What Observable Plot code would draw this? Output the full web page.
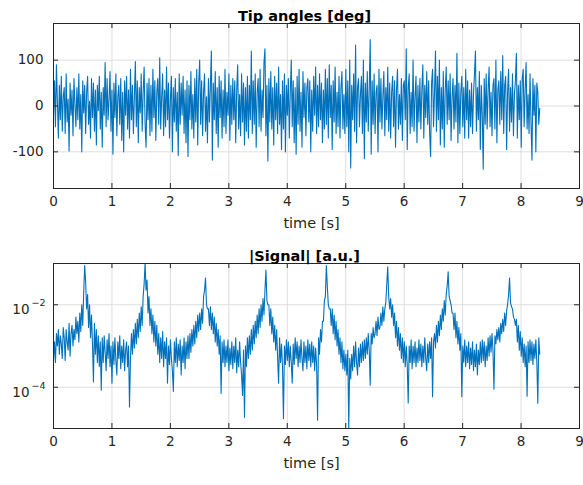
<!DOCTYPE html>
<html>
<head>
<meta charset="utf-8">
<script src="https://cdn.jsdelivr.net/npm/d3@7"></script>
<script src="https://cdn.jsdelivr.net/npm/@observablehq/plot@0.6"></script>
<style>
  html, body { margin: 0; padding: 0; background: #fff; }
  #chart { width: 583px; height: 485px; position: relative; }
  #chart > div { position: absolute; left: 0; }
</style>
</head>
<body>
<div id="chart"><div id="top" style="top:0"></div><div id="bottom" style="top:240px"></div></div>
<script>
// ---- data ----
const tStart = 0;      // first sample time [s]
const tEnd = 8.32;     // last sample time [s]

// Tip angles [deg], evenly sampled between tStart and tEnd
const tipAngles = [
  -20, 55, -45, 90, 10, -70, 45, -30, 65, -55, 20, 40, -60, 70, -35, 15, -98, 50, -20, 35, -65, 60, 5, -45, 40,
  -30, 70, -50, 25, -100, 55, -15, 45, -60, 30, 65, -40, 10, -70, 60, -25, 50, -55, 35, -85, 45, -10, 65, -50, 30,
  -90, 40, -20, 95, -45, 60, -30, 15, 75, -55, 35, -105, 50, -25, 70, -65, 20, 45, -40, 60, -75, 30, -100, 55, -20,
  65, -50, 35, -70, 80, -30, 45, -60, 20, 97, -45, 55, -80, 40, -15, 70, -55, 30, 85, -40, -90, 50, -30, 60, -65,
  45, -55, 80, -25, 55, -75, 30, 60, -40, 105, -50, 20, 70, -65, 35, -45, 85, -30, 50, -70, 15, 65, -100, 40, -35,
  60, -55, 30, -108, 70, -40, 50, -20, 65, -60, 35, -80, 55, -110, 45, -30, 75, -50, 25, -70, 60, -35, 80, -85, 50,
  100, -40, 55, -65, 30, 70, -55, 20, -80, 60, -35, 45, 120, -118, 50, -30, 75, -60, 40, -90, 65, -25, 55, -70, 35,
  -45, 80, -60, 30, -20, 70, -75, 45, -40, 60, -30, 55, -80, 35, 90, -50, 25, -65, 70, -35, 50, -85, 40, -55, 65,
  -70, 45, -30, 120, -60, 55, -40, 70, -90, 30, 60, -45, 80, -55, 35, -25, 95, 125, -65, 45, -120, 60, -35, 75, -50,
  40, -85, 65, -30, 50, -60, 85, -40, 25, -95, 55, -50, 70, -100, 45, -20, 60, -70, 30, 100, -45, 55, -80, 40, -105,
  65, -40, 80, -55, 30, -90, 75, -25, 50, -65, 40, 60, -35, 55, -100, 35, -55, 65, -20, 85, -60, 45, -45, 70, -30,
  50, -80, 35, -50, 80, -40, 60, -70, 90, -25, 45, -95, 55, -35, 85, -60, 30, -45, 65, -70, 40, 75, -50, 25, -60,
  80, -45, 55, -100, 100, -135, 45, -30, 70, -55, 133, -80, 40, 60, -45, 25, 65, -60, 100, -115, 50, -35, 75, -55, 35,
  145, -105, 55, -40, 70, -60, 30, 45, -100, 80, -35, 60, -50, 20, 75, -65, 40, -30, 85, -55, 50, -70, 30, 65, -45,
  55, -90, 35, 80, -50, 25, -40, 60, -75, 45, 55, -30, 125, -95, 40, 70, -60, 30, -45, 100, -55, 20, 65, -80, 45,
  -35, 60, -50, 35, 90, -70, 45, -25, 75, -40, 55, -60, -110, 50, 80, -45, 30, 120, -55, 65, -30, 100, -85, 40, -50,
  75, -90, 35, 85, -40, 55, -30, 70, -75, 20, 60, -50, 45, -35, 115, -80, 50, -60, 30, 65, -45, 40, -70, 80, -30,
  55, -70, 35, -45, 50, -60, 25, 70, 120, -55, 40, -30, 75, -95, 45, -20, -138, 60, -40, 70, -50, 35, 85, -45, 30,
  -65, 45, 60, -50, 100, -80, 35, 55, -40, 75, -30, 110, -60, 45, 65, -95, 30, 80, -55, 40, -35, 70, -65, 25, 55,
  115, -70, 45, -30, 55, -90, 60, 80, -45, 35, 95, -50, 25, -60, 70, -35, -118, 60, -20, 45, -100, 50, 30, -40, -5
];

// |Signal| [a.u.] as log10 exponents, same sampling
const signalLog10 = [
  -3.35, -2.9, -3.4, -2.7, -3.0, -2.6, -3.2, -2.75, -2.95, -3.3, -2.55, -2.8, -3.35, -2.6, -2.9, -3.1, -2.45, -3.25, -2.7, -2.5, -3.0, -2.6, -2.85, -2.3, -2.7,
  -2.4, -2.9, -2.2, -2.65, -2.0, -2.5, -1.7, -1.05, -1.45, -2.1, -1.75, -2.55, -2.0, -2.8, -2.25, -2.95, -3.87, -2.45, -3.2, -2.6, -3.4, -2.75, -3.5, -2.9, -4.07,
  -2.8, -3.4, -2.75, -3.15, -3.6, -2.85, -3.3, -2.7, -3.5, -3.0, -3.9, -2.9, -3.45, -2.8, -3.35, -3.7, -2.9, -3.3, -2.75, -3.55, -3.0, -3.4, -2.85, -3.6, -3.1,
  -2.9, -3.5, -3.0, -4.48, -3.3, -2.7, -3.2, -2.6, -3.05, -2.45, -2.95, -2.35, -2.8, -2.2, -2.65, -2.05, -2.5, -1.8, -1.5, -0.98, -1.65, -1.4, -2.2, -1.8, -2.5,
  -2.1, -2.7, -2.25, -2.9, -2.4, -3.0, -2.5, -3.2, -2.7, -3.4, -2.8, -3.3, -2.65, -3.5, -2.9, -3.3, -2.8, -3.9, -3.0, -3.45, -2.85, -3.3, -3.6, -4.1, -2.9,
  -3.4, -2.8, -3.5, -2.95, -3.35, -2.85, -3.7, -3.0, -3.4, -2.8, -3.55, -2.9, -3.3, -2.75, -3.3, -2.7, -3.15, -2.6, -3.0, -2.5, -2.95, -2.4, -2.8, -2.25, -2.65,
  -2.2, -2.6, -2.1, -2.45, -1.8, -1.65, -1.35, -2.0, -2.1, -2.1, -2.5, -2.05, -2.6, -2.2, -2.7, -2.3, -2.9, -2.45, -3.0, -2.6, -3.2, -2.75, -4.15, -2.9, -3.4,
  -2.85, -3.5, -3.0, -3.4, -2.85, -3.6, -3.05, -3.45, -2.9, -3.55, -3.0, -3.4, -2.8, -3.65, -3.1, -3.5, -2.9, -3.4, -3.7, -4.2, -3.1, -4.73, -3.0, -3.5, -2.8,
  -3.3, -2.75, -3.2, -2.6, -3.1, -2.5, -2.95, -2.4, -2.8, -2.25, -2.7, -2.1, -2.55, -2.0, -2.4, -1.85, -2.25, -1.65, -1.16, -1.9, -2.0, -2.0, -2.5, -2.1, -2.7,
  -2.3, -2.9, -2.5, -3.1, -2.6, -3.3, -3.9, -2.8, -3.4, -2.95, -3.5, -4.76, -3.0, -3.45, -2.85, -3.35, -2.9, -3.5, -3.0, -3.4, -3.9, -2.95, -3.45, -2.8, -3.3,
  -2.9, -3.5, -3.0, -3.4, -2.85, -3.3, -3.6, -2.9, -3.4, -3.0, -3.55, -2.85, -3.35, -2.95, -3.5, -2.9, -3.4, -3.0, -3.6, -3.05, -3.45, -4.8, -2.8, -3.2, -2.6,
  -2.9, -2.4, -2.4, -1.9, -1.8, -1.05, -1.55, -2.0, -2.1, -2.1, -2.5, -2.1, -2.7, -2.25, -2.85, -2.4, -3.0, -2.6, -3.2, -2.8, -3.4, -2.9, -3.55, -3.1, -3.6,
  -3.2, -3.7, -3.1, -5.0, -3.3, -3.8, -3.2, -3.6, -3.0, -3.5, -2.9, -3.4, -3.7, -3.05, -3.5, -2.95, -3.4, -2.9, -3.35, -2.85, -3.3, -2.8, -3.2, -2.7, -3.1,
  -3.95, -2.7, -2.95, -2.55, -2.8, -2.7, -2.4, -2.75, -2.3, -2.6, -2.55, -2.2, -2.5, -2.05, -2.4, -2.1, -1.95, -1.5, -1.08, -1.8, -2.1, -1.85, -2.3, -2.0, -2.5,
  -2.2, -2.8, -2.4, -3.0, -2.55, -3.1, -2.7, -3.3, -2.8, -3.4, -2.9, -3.5, -3.0, -3.45, -4.38, -3.0, -3.4, -2.85, -3.55, -3.0, -3.4, -2.9, -3.5, -3.05, -3.4,
  -2.85, -3.35, -2.95, -3.5, -3.0, -3.4, -2.8, -3.3, -3.6, -2.95, -3.4, -2.9, -3.3, -2.8, -4.23, -2.9, -2.7, -3.05, -2.5, -2.9, -2.4, -2.75, -2.25, -2.6, -2.1,
  -2.4, -1.9, -2.25, -1.75, -1.55, -1.2, -1.8, -1.9, -2.0, -2.2, -2.2, -2.6, -2.2, -2.8, -2.4, -2.95, -2.55, -3.1, -2.7, -4.23, -3.0, -3.4, -2.85, -3.5, -3.0,
  -3.4, -2.9, -3.55, -3.05, -3.45, -2.9, -3.6, -3.1, -3.5, -2.95, -3.7, -3.1, -3.45, -2.9, -3.4, -2.85, -3.35, -2.9, -3.5, -3.0, -3.35, -2.8, -3.25, -2.75, -3.15,
  -2.7, -3.1, -4.05, -2.75, -2.95, -2.6, -2.85, -2.55, -2.9, -2.45, -2.7, -2.35, -2.65, -2.2, -2.5, -2.15, -2.0, -1.75, -1.35, -1.95, -2.05, -2.1, -2.3, -2.35, -2.5,
  -2.35, -2.9, -2.5, -3.1, -2.65, -3.25, -2.8, -3.4, -2.95, -3.5, -3.0, -4.22, -2.9, -3.4, -2.85, -3.35, -2.9, -3.45, -2.95, -3.3, -2.85, -3.4, -4.39, -2.8, -3.2
];

// axes
const xTicks = [0, 1, 2, 3, 4, 5, 6, 7, 8, 9];
const xDomain = [0, 9];
const topYTicks = [-100, 0, 100];
const topYDomain = [-180, 180];
const bottomYExponents = [-4, -2];
const bottomYDomainExp = [-5, -1];

const titles = ["Tip angles [deg]", "|Signal| [a.u.]"];
const xLabel = "time [s]";

// ---- build tables ----
const timeAt = (i, n) => tStart + (tEnd - tStart) * i / (n - 1);
const topData = tipAngles.map((v, i) => ({t: timeAt(i, tipAngles.length), v}));
const bottomData = signalLog10.map((e, i) => ({t: timeAt(i, signalLog10.length), v: Math.pow(10, e)}));

const BLUE = "#0072BD";
const AX = "#262626";
const GRID = "#dedede";
const FONT = "DejaVu Sans, sans-serif";
const W = 583, ML = 53, MR = 4, MT = 23;

function panel({height, marginBottom, yScale, yTickMarks, yLabels, data, title}) {
  const frameH = height - MT - marginBottom;
  const frameW = W - ML - MR;
  return Plot.plot({
    width: W, height,
    marginLeft: ML, marginRight: MR, marginTop: MT, marginBottom,
    style: {fontFamily: FONT, fontSize: "13.5px", color: AX, background: "#fff", overflow: "visible"},
    x: {domain: xDomain, axis: null},
    y: {...yScale, axis: null},
    marks: [
      Plot.ruleX(xTicks, {x: d => d, stroke: GRID, strokeWidth: 1}),
      Plot.ruleY(yTickMarks, {y: d => d, stroke: GRID, strokeWidth: 1}),
      Plot.line(data, {x: "t", y: "v", stroke: BLUE, strokeWidth: 1.1, clip: true}),
      Plot.frame({stroke: AX, strokeWidth: 1}),
      Plot.tickX(xTicks, {x: d => d, stroke: AX, insetTop: frameH - 5}),
      Plot.tickX(xTicks, {x: d => d, stroke: AX, insetBottom: frameH - 5}),
      Plot.tickY(yTickMarks, {y: d => d, stroke: AX, insetRight: frameW - 5}),
      Plot.tickY(yTickMarks, {y: d => d, stroke: AX, insetLeft: frameW - 5}),
      Plot.text(xTicks, {x: d => d, frameAnchor: "bottom", dy: 17.5, text: d => String(d), fill: AX, fontSize: 13.5}),
      ...yLabels,
      Plot.text([xLabel], {frameAnchor: "bottom", dy: 39, dx: -5, text: d => d, fill: AX, fontSize: 14.5}),
      Plot.text([title], {frameAnchor: "top", dy: -12.5, dx: -12, text: d => d, fill: "#000", fontSize: 14.5, fontWeight: "bold"})
    ]
  });
}

const topPlot = panel({
  height: 240, marginBottom: 52,
  yScale: {domain: topYDomain},
  yTickMarks: topYTicks,
  yLabels: [Plot.text(topYTicks, {y: d => d, frameAnchor: "left", textAnchor: "end", dx: -10, text: d => String(d), fill: AX, fontSize: 13.5})],
  data: topData, title: titles[0]
});

const bottomTicks = bottomYExponents.map(e => Math.pow(10, e));
const bottomPlot = panel({
  height: 245, marginBottom: 57,
  yScale: {type: "log", domain: bottomYDomainExp.map(e => Math.pow(10, e))},
  yTickMarks: bottomTicks,
  yLabels: [
    Plot.text(bottomYExponents, {y: e => Math.pow(10, e), frameAnchor: "left", textAnchor: "end", dx: -24, dy: 5, text: () => "10", fill: AX, fontSize: 13.5}),
    Plot.text(bottomYExponents, {y: e => Math.pow(10, e), frameAnchor: "left", textAnchor: "start", dx: -22, dy: -1.5, text: e => "\u2212" + Math.abs(e), fill: AX, fontSize: 9.5})
  ],
  data: bottomData, title: titles[1]
});

document.getElementById("top").appendChild(topPlot);
document.getElementById("bottom").appendChild(bottomPlot);
</script>
</body>
</html>
